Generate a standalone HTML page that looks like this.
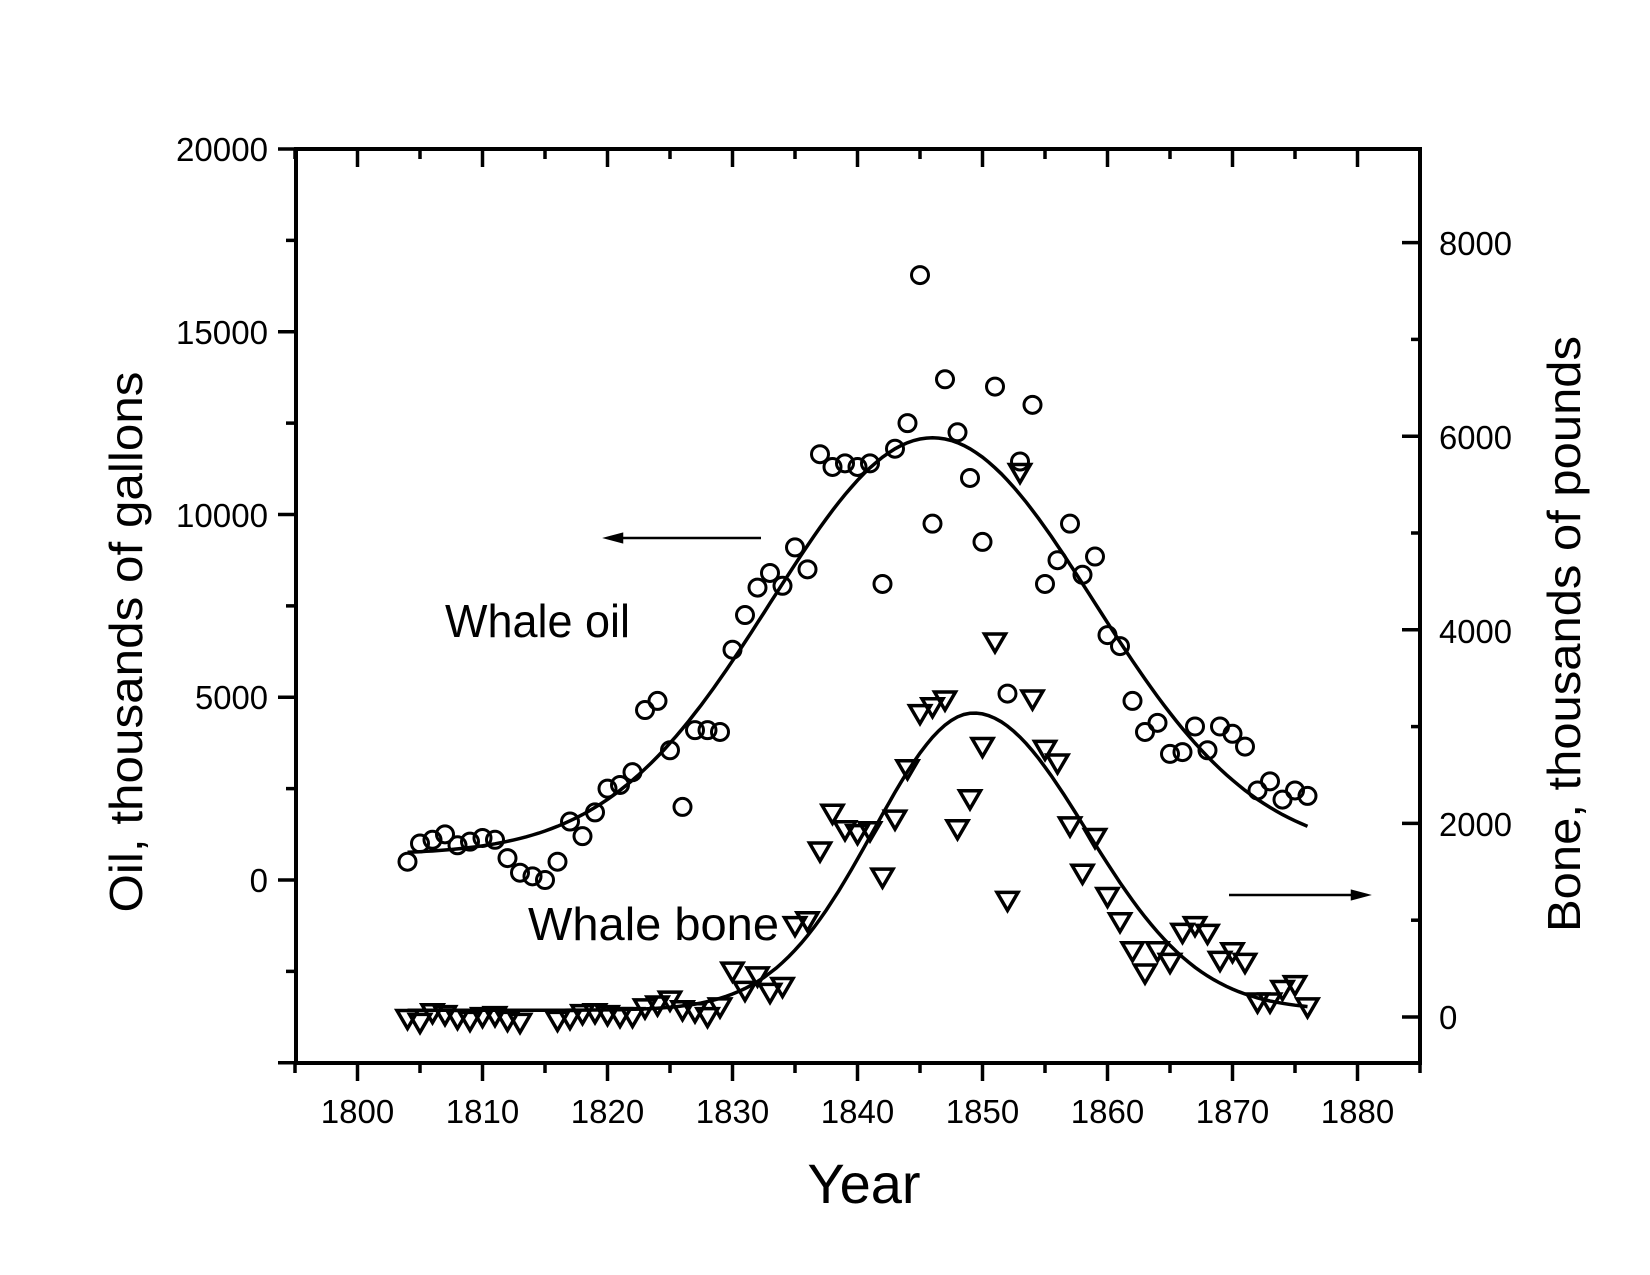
<!DOCTYPE html>
<html><head><meta charset="utf-8"><style>
html,body{margin:0;padding:0;background:#fff;}
svg{display:block;}
text{font-family:"Liberation Sans",Arial,sans-serif;fill:#000;}
</style></head><body>
<svg id="s" xmlns="http://www.w3.org/2000/svg" width="1650" height="1275" viewBox="0 0 1650 1275">
<rect width="1650" height="1275" fill="#fff"/>
<g id="ticks" stroke="#000" stroke-width="3.5"></g>
<rect x="296" y="149" width="1124" height="914" fill="none" stroke="#000" stroke-width="4"/>
<g font-size="33">
<text x="268" y="161" text-anchor="end" textLength="92" lengthAdjust="spacingAndGlyphs">20000</text>
<text x="268" y="344" text-anchor="end" textLength="92" lengthAdjust="spacingAndGlyphs">15000</text>
<text x="268" y="527" text-anchor="end" textLength="92" lengthAdjust="spacingAndGlyphs">10000</text>
<text x="268" y="709" text-anchor="end" textLength="73" lengthAdjust="spacingAndGlyphs">5000</text>
<text x="268" y="892" text-anchor="end">0</text>
<text x="1439" y="255" textLength="73" lengthAdjust="spacingAndGlyphs">8000</text>
<text x="1439" y="449" textLength="73" lengthAdjust="spacingAndGlyphs">6000</text>
<text x="1439" y="643" textLength="73" lengthAdjust="spacingAndGlyphs">4000</text>
<text x="1439" y="836" textLength="73" lengthAdjust="spacingAndGlyphs">2000</text>
<text x="1439" y="1029">0</text>
<text x="357.5" y="1123" text-anchor="middle">1800</text>
<text x="482.5" y="1123" text-anchor="middle">1810</text>
<text x="607.5" y="1123" text-anchor="middle">1820</text>
<text x="732.5" y="1123" text-anchor="middle">1830</text>
<text x="857.5" y="1123" text-anchor="middle">1840</text>
<text x="982.5" y="1123" text-anchor="middle">1850</text>
<text x="1107.5" y="1123" text-anchor="middle">1860</text>
<text x="1232.5" y="1123" text-anchor="middle">1870</text>
<text x="1357.5" y="1123" text-anchor="middle">1880</text>
</g>
<text x="864" y="1203" font-size="56" text-anchor="middle">Year</text>
<text transform="translate(142,642) rotate(-90)" font-size="46" text-anchor="middle" textLength="541" lengthAdjust="spacingAndGlyphs">Oil, thousands of gallons</text>
<text transform="translate(1580,634) rotate(-90)" font-size="46" text-anchor="middle" textLength="596" lengthAdjust="spacingAndGlyphs">Bone, thousands of pounds</text>
<text x="445" y="637" font-size="46" textLength="185" lengthAdjust="spacingAndGlyphs">Whale oil</text>
<text x="528" y="940" font-size="46" textLength="251" lengthAdjust="spacingAndGlyphs">Whale bone</text>
<g stroke="#000" stroke-width="2.5" fill="#000">
<line x1="761" y1="538" x2="620" y2="538"/>
<polygon points="607,538 622,534 622,542"/>
<line x1="1229" y1="895" x2="1354" y2="895"/>
<polygon points="1367,895 1352,891 1352,899"/>
</g>
<g id="data"></g>
</svg>
<script>
var NS="http://www.w3.org/2000/svg";
function X(y){return 357.5+(y-1800)*12.5;}
function YO(v){return 880-v*0.03655;}
function YB(v){return 1017-v*0.0968;}
function el(p,t,a){var e=document.createElementNS(NS,t);for(var k in a)e.setAttribute(k,a[k]);p.appendChild(e);return e;}
var tk=document.getElementById('ticks');
for(var y=1795;y<=1885;y+=5){var maj=(y%10==0);var x=X(y);
 el(tk,'line',{x1:x,y1:1063,x2:x,y2:1063+(maj?18:10)});
 el(tk,'line',{x1:x,y1:149,x2:x,y2:149+(maj?18:10)});}
for(var v=-5000;v<=20000;v+=2500){var maj=(v%5000==0);var yy=YO(v);
 el(tk,'line',{x1:296,y1:yy,x2:296-(maj?18:10),y2:yy});}
for(var v=-1000;v<=9000;v+=1000){var maj=(v%2000==0);var yy=YB(v);if(yy<149||yy>1063)continue;
 el(tk,'line',{x1:1420,y1:yy,x2:1420-(maj?18:9),y2:yy});}
var d=document.getElementById('data');
var oil=[500,1000,1100,1250,950,1050,1150,1100,600,200,100,0,500,1600,1200,1850,2500,2600,2950,4650,4900,3550,2000,4100,4100,4050,6300,7250,8000,8400,8050,9100,8500,11650,11300,11400,11300,11400,8100,11800,12500,16550,9750,13700,12250,11000,9250,13500,5100,11450,13000,8100,8750,9750,8350,8850,6700,6400,4900,4050,4300,3450,3500,4200,3550,4200,4000,3650,2450,2700,2200,2450,2300];
var pts=[];for(var y=1804;y<=1876;y+=0.5){var v=700+11400*Math.exp(-Math.pow(y-1846,2)/(2*167));pts.push(X(y).toFixed(1)+','+YO(v).toFixed(1));}
el(d,'polyline',{points:pts.join(' '),fill:'none',stroke:'#000','stroke-width':3.5});
var bone={1804:0,1805:-40,1806:60,1807:40,1808:0,1809:-20,1810:20,1811:30,1812:-20,1813:-40,1816:-20,1817:0,1818:50,1819:60,1820:40,1821:20,1822:20,1823:110,1824:140,1825:190,1826:90,1827:70,1828:20,1829:120,1830:490,1831:290,1832:440,1833:270,1834:330,1835:960,1836:1010,1837:1730,1838:2120,1839:1950,1840:1910,1841:1940,1842:1460,1843:2060,1844:2580,1845:3150,1846:3220,1847:3290,1848:1960,1849:2270,1850:2810,1851:3890,1852:1220,1853:5640,1854:3300,1855:2780,1856:2640,1857:1990,1858:1500,1859:1870,1860:1260,1861:1000,1862:700,1863:470,1864:700,1865:580,1866:890,1867:960,1868:880,1869:600,1870:690,1871:580,1872:170,1873:170,1874:300,1875:350,1876:120};
pts=[];for(var y=1804;y<=1876;y+=0.5){var s=y<1849.3?8:9;var v=70+3070*Math.exp(-Math.pow(y-1849.3,2)/(2*s*s));pts.push(X(y).toFixed(1)+','+YB(v).toFixed(1));}
el(d,'polyline',{points:pts.join(' '),fill:'none',stroke:'#000','stroke-width':3.5});
for(var i=0;i<oil.length;i++){el(d,'circle',{cx:X(1804+i),cy:YO(oil[i]),r:8.5,fill:'none',stroke:'#000','stroke-width':3});}
for(var k in bone){var cx=X(+k),cy=YB(bone[k]);
 el(d,'polygon',{points:(cx-10.5)+','+(cy-6.5)+' '+(cx+10.5)+','+(cy-6.5)+' '+cx+','+(cy+11.5),fill:'none',stroke:'#000','stroke-width':3.5,'stroke-linejoin':'miter'});}
</script>
</body></html>
